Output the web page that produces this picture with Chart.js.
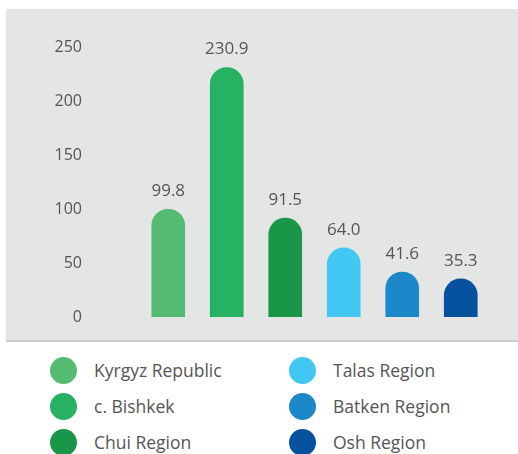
<!DOCTYPE html>
<html>
<head>
<meta charset="utf-8">
<script src="https://cdn.jsdelivr.net/npm/chart.js@4"></script>
<style>
  body { margin: 0; background: #fff; width: 518px; height: 454px; overflow: hidden; position: relative; font-family: "Open Sans", sans-serif; }
  #panel { position: absolute; left: 6px; top: 9px; width: 512px; height: 331px; background: #e4e5e5; border-bottom: 2px solid #c9caca; }
  #legend { position: absolute; left: 0; top: 0; }
  .item { position: absolute; height: 26px; display: flex; align-items: center; color: #555; font-size: 17.5px; white-space: nowrap; }
  .dot { width: 27px; height: 27px; border-radius: 50%; margin-right: 17px; }
</style>
</head>
<body>
<div id="panel"><canvas id="chart" width="512" height="331"></canvas></div>
<div id="legend"></div>
<script>
// valeurs
const regions = ['Kyrgyz Republic', 'c. Bishkek', 'Chui Region', 'Talas Region', 'Batken Region', 'Osh Region'];
const values = [99.8, 230.9, 91.5, 64.0, 41.6, 35.3];
const colors = ['#55bb72', '#27b163', '#1a9648', '#41c7f2', '#1c88c9', '#07529e'];
const yTicks = [0, 50, 100, 150, 200, 250];

// etiquettes de valeur au-dessus des barres
const valueLabels = {
    id: 'valueLabels',
    afterDatasetsDraw(chart) {
        const ctx = chart.ctx;
        const meta = chart.getDatasetMeta(0);
        ctx.save();
        ctx.font = '17px "Open Sans"';
        ctx.fillStyle = '#555';
        ctx.textAlign = 'center';
        ctx.textBaseline = 'middle';
        meta.data.forEach((bar, i) => {
            ctx.fillText(values[i].toFixed(1), bar.x, bar.y - 18);
        });
        ctx.restore();
    }
};

const ctx = document.getElementById('chart').getContext('2d');
new Chart(ctx, {
    type: 'bar',
    data: {
        labels: regions,
        datasets: [{
            data: values,
            backgroundColor: colors,
            barThickness: 33,
            borderRadius: { topLeft: 17, topRight: 17 },
            borderSkipped: 'start'
        }]
    },
    options: {
        responsive: false,
        animation: false,
        layout: { padding: { top: 38, bottom: 23, right: 28 } },
        plugins: { legend: { display: false }, tooltip: { enabled: false } },
        scales: {
            x: { display: false },
            y: {
                min: 0,
                max: 250,
                afterFit: s => { s.width = 133; s.paddingTop = 0; s.paddingBottom = 0; },
                afterBuildTicks: s => { s.ticks = yTicks.map(v => ({ value: v })); },
                grid: { display: false, drawTicks: false },
                border: { display: false },
                ticks: { padding: 57, color: '#555', font: { family: 'Open Sans', size: 16 } }
            }
        }
    },
    plugins: [valueLabels]
});

// legende en deux colonnes
const legend = document.getElementById('legend');
regions.forEach((name, i) => {
    const col = Math.floor(i / 3);
    const row = i % 3;
    const item = document.createElement('div');
    item.className = 'item';
    item.style.left = (col === 0 ? 50 : 289) + 'px';
    item.style.top = (357 + row * 36) + 'px';
    item.innerHTML = '<span class="dot" style="background:' + colors[i] + '"></span>' + name;
    legend.appendChild(item);
});
</script>
</body>
</html>
